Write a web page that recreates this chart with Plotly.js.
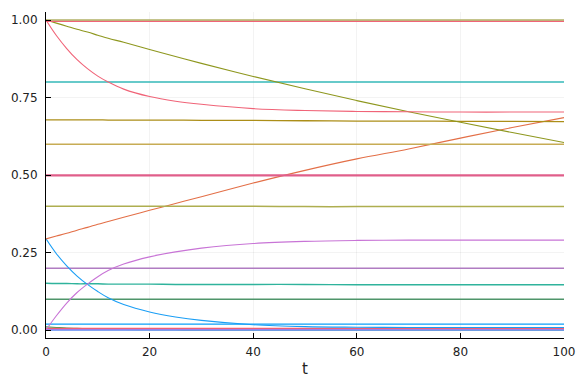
<!DOCTYPE html>
<html>
<head>
<meta charset="utf-8">
<script src="https://cdn.plot.ly/plotly-3.0.1.min.js"></script>
<style>html,body{margin:0;padding:0;background:#fff;}#chart{width:576px;height:384px;}</style>
</head>
<body>
<div id="chart"></div>
<script>
// time grid
const T = [0, 2, 4, 6, 8, 10, 12, 15, 20, 25, 30, 40, 50, 60, 70, 80, 90, 100];

// series values
const top100   = [1.000,1.000,1.000,1.000,1.000,1.000,1.000,1.000,1.000,1.000,1.000,1.000,1.000,1.000,1.000,1.000,1.000,1.000];
const pink996  = [0.996,0.996,0.996,0.996,0.996,0.996,0.996,0.996,0.996,0.996,0.996,0.996,0.996,0.996,0.996,0.996,0.996,0.996];
const pinkDecay= [1.000,0.950,0.908,0.872,0.843,0.819,0.800,0.777,0.753,0.738,0.728,0.714,0.708,0.705,0.704,0.703,0.703,0.703];
const oliveDecay=[1.000,0.990,0.980,0.970,0.961,0.951,0.941,0.928,0.905,0.882,0.860,0.818,0.778,0.740,0.704,0.670,0.637,0.605];
const teal80   = [0.800,0.800,0.800,0.800,0.800,0.800,0.800,0.800,0.800,0.800,0.800,0.800,0.800,0.800,0.800,0.800,0.800,0.800];
const gold68   = [0.678,0.678,0.678,0.678,0.678,0.678,0.677,0.677,0.677,0.677,0.676,0.676,0.675,0.674,0.674,0.673,0.673,0.672];
const tan60    = [0.599,0.599,0.599,0.599,0.599,0.599,0.599,0.599,0.599,0.599,0.599,0.599,0.599,0.599,0.599,0.599,0.599,0.599];
const pink50   = [0.499,0.499,0.499,0.499,0.499,0.499,0.499,0.499,0.499,0.499,0.499,0.499,0.499,0.499,0.499,0.499,0.499,0.499];
const olive40  = [0.399,0.399,0.399,0.399,0.399,0.399,0.399,0.399,0.399,0.399,0.399,0.399,0.398,0.398,0.398,0.398,0.398,0.398];
const orangeRise=[0.294,0.303,0.312,0.322,0.331,0.341,0.350,0.364,0.386,0.408,0.430,0.474,0.515,0.552,0.584,0.619,0.653,0.685];
const purpleRise=[0.000,0.046,0.087,0.121,0.148,0.172,0.192,0.213,0.236,0.252,0.264,0.279,0.286,0.289,0.290,0.290,0.290,0.290];
const blueDecay= [0.294,0.246,0.207,0.174,0.147,0.124,0.104,0.082,0.058,0.042,0.031,0.017,0.011,0.009,0.008,0.008,0.008,0.008];
const mauve20  = [0.199,0.199,0.199,0.199,0.199,0.199,0.199,0.199,0.199,0.199,0.199,0.199,0.199,0.199,0.199,0.199,0.199,0.199];
const teal15   = [0.151,0.150,0.150,0.149,0.149,0.149,0.148,0.148,0.148,0.147,0.147,0.147,0.147,0.146,0.146,0.146,0.146,0.146];
const green10  = [0.099,0.099,0.099,0.099,0.099,0.099,0.099,0.099,0.099,0.099,0.099,0.099,0.099,0.099,0.099,0.099,0.099,0.099];
const blue02   = [0.019,0.019,0.019,0.019,0.019,0.019,0.019,0.019,0.019,0.019,0.019,0.019,0.019,0.019,0.019,0.019,0.019,0.019];
const greenLow = [0.010,0.008,0.006,0.005,0.004,0.003,0.002,0.002,0.001,0.001,0.000,0.000,0.000,0.000,0.000,0.000,0.000,0.000];
const pinkLow  = [0.005,0.005,0.005,0.005,0.005,0.005,0.005,0.005,0.005,0.005,0.005,0.005,0.005,0.005,0.005,0.005,0.005,0.005];
const lavLow   = [0.002,0.002,0.002,0.002,0.002,0.002,0.002,0.002,0.002,0.002,0.002,0.002,0.002,0.002,0.002,0.002,0.002,0.002];
const blueLow  = [0.000,0.000,0.000,0.000,0.000,0.000,0.000,0.000,0.000,0.000,0.000,0.000,0.000,0.000,0.000,0.000,0.000,0.000];

const xTicks = [0, 20, 40, 60, 80, 100];
const yTicks = [0, 0.25, 0.5, 0.75, 1.0];
const yTickText = ['0.00', '0.25', '0.50', '0.75', '1.00'];

const series = [
  [greenLow,  '#3ea44e', 1.2],
  [blueLow,   '#618cf6', 1.6],
  [lavLow,    '#9b7fe9', 1.4],
  [pinkLow,   '#f05f73', 1.2],
  [blue02,    '#0a9ff8', 1.3],
  [green10,   '#4f956a', 1.6],
  [teal15,    '#2fb39c', 1.4],
  [mauve20,   '#b07cc2', 1.5],
  [blueDecay, '#1a9ef5', 1.1],
  [purpleRise,'#c874d6', 1.1],
  [orangeRise,'#e36f47', 1.1],
  [olive40,   '#aeae50', 1.5],
  [pink50,    '#e05e8a', 2.2],
  [tan60,     '#c7ac55', 1.5],
  [gold68,    '#ac8e18', 1.3],
  [teal80,    '#35b8b9', 1.5],
  [oliveDecay,'#8e971e', 1.1],
  [pinkDecay, '#f06478', 1.1],
  [pink996,   '#f06478', 1.3],
  [top100,    '#b0b066', 1.5]
];

const traces = series.map(([y, c, w]) => ({
  x: T, y: y, type: 'scatter', mode: 'lines',
  line: {color: c, width: w, shape: 'spline', smoothing: 1.0},
  hoverinfo: 'skip'
}));

const axisFont = {family: 'DejaVu Sans, sans-serif', size: 12, color: '#222'};

const layout = {
  width: 576, height: 384,
  margin: {l: 46, r: 12, t: 12, b: 46},
  paper_bgcolor: '#fff', plot_bgcolor: '#fff',
  showlegend: false,
  xaxis: {
    range: [0, 100], tickvals: xTicks, ticktext: xTicks.map(String),
    showgrid: true, gridcolor: 'rgba(0,0,0,0.08)', gridwidth: 0.6,
    zeroline: false, showline: true, linecolor: '#000', linewidth: 1,
    ticks: 'inside', ticklen: 5, tickcolor: '#000', tickfont: axisFont,
    ticklabelstandoff: 3,
    title: {text: 't', font: {family: 'DejaVu Sans, sans-serif', size: 15, color: '#222'}, standoff: 5},
    automargin: false
  },
  yaxis: {
    range: [-0.0258, 1.0258], tickvals: yTicks, ticktext: yTickText,
    showgrid: true, gridcolor: 'rgba(0,0,0,0.08)', gridwidth: 0.6,
    zeroline: false, showline: true, linecolor: '#000', linewidth: 1,
    ticks: 'inside', ticklen: 5, tickcolor: '#000', tickfont: axisFont,
    ticklabelstandoff: 5,
    automargin: false
  }
};

Plotly.newPlot('chart', traces, layout, {staticPlot: true, displayModeBar: false});
</script>
</body>
</html>
